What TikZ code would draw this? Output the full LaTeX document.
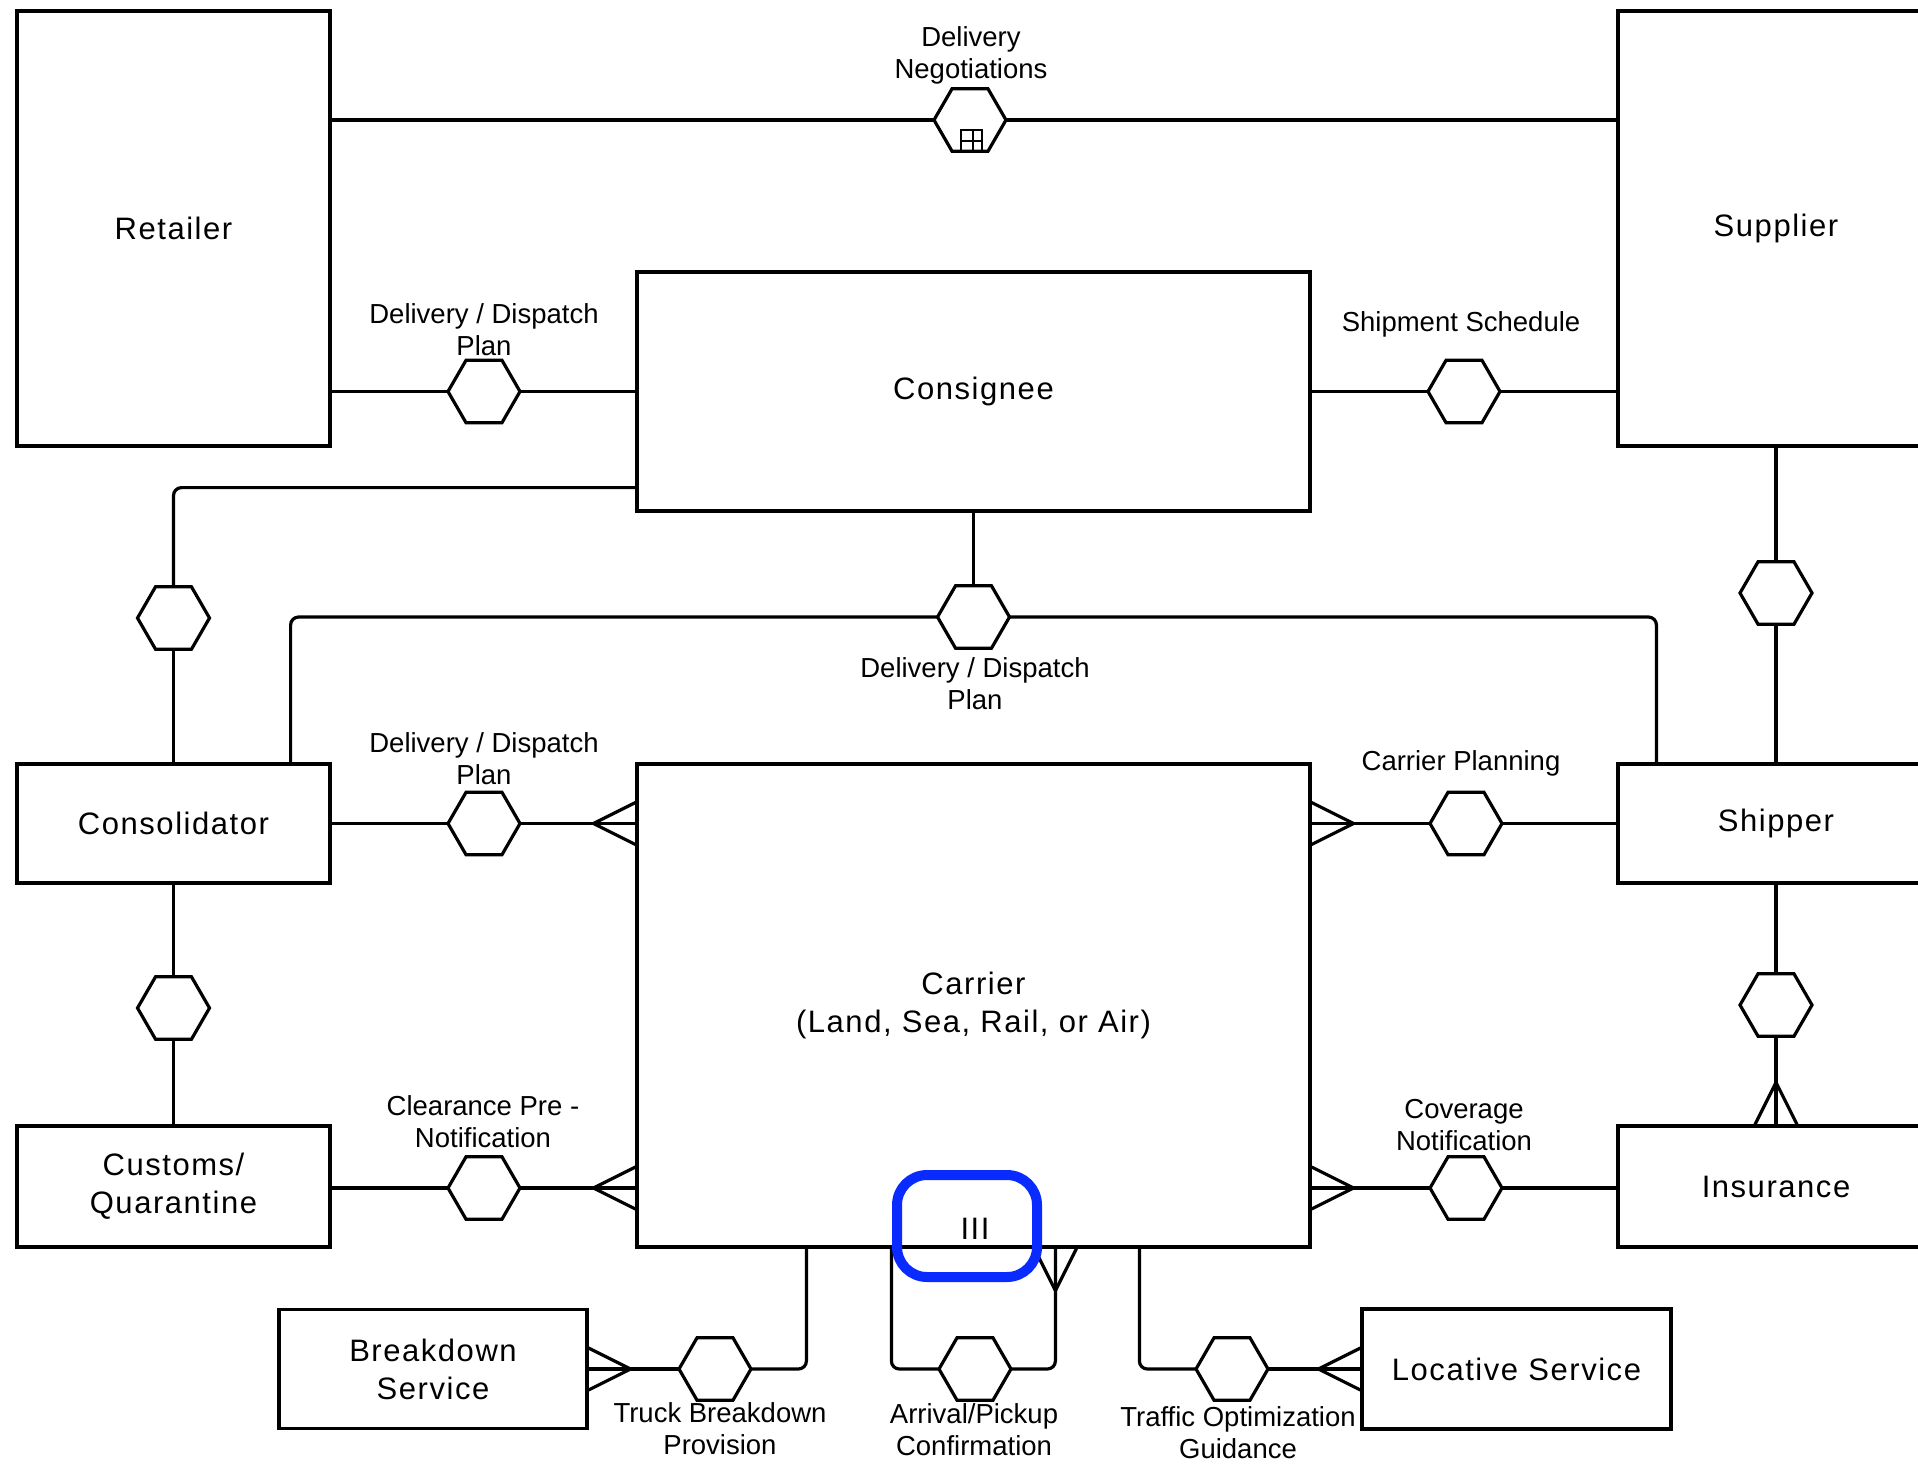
\documentclass[tikz,border=0pt]{standalone}
\usepackage{fontspec}
\setmainfont{Liberation Sans}
\usetikzlibrary{shapes.geometric}
\definecolor{markBlue}{HTML}{0A2BFF}
\newcommand{\entfont}{\fontsize{31}{38}\selectfont\addfontfeature{LetterSpace=5}}
\newcommand{\relfont}{\fontsize{27.5}{32}\selectfont}

\begin{document}
\begin{tikzpicture}[x=1pt,y=-1pt,
 entity/.style={rectangle,draw,line width=3.2pt,inner sep=0pt,align=center,font=\entfont},
 relation/.style={regular polygon,regular polygon sides=6,draw,line width=3.2pt,
 minimum size=72pt,inner sep=0pt,outer sep=0pt,fill=white},
 caption/.style={align=center,font=\relfont,inner sep=0pt},
 link/.style={line width=3.2pt,rounded corners=8pt},
 crow/.pic={\draw[line width=3.2pt] (0,-21) -- (-42,0) -- (0,21);}]
\useasboundingbox (0,0) rectangle (1918,1466);
\node[entity,minimum width=313pt,minimum height=435pt] (retailer) at (173.5,228.5) {Retailer};
\node[entity,minimum width=316pt,minimum height=435pt] (supplier) at (1776,228.5) {Supplier};
\node[entity,minimum width=673pt,minimum height=239pt] (consignee) at (973.5,391.5) {Consignee};
\node[entity,minimum width=313pt,minimum height=119pt] (consolidator) at (173.5,823.5) {Consolidator};
\node[entity,minimum width=316pt,minimum height=119pt] (shipper) at (1776,823.5) {Shipper};
\node[entity,minimum width=313pt,minimum height=121pt] (customs) at (173.5,1186.5) {Customs/\\Quarantine};
\node[entity,minimum width=316pt,minimum height=121pt] (insurance) at (1776,1186.5) {Insurance};
\node[entity,minimum width=673pt,minimum height=483pt] (carrier) at (973.5,1005.5) {Carrier\\(Land, Sea, Rail, or Air)};
\node[entity,minimum width=308pt,minimum height=119pt] (breakdown) at (433,1369) {Breakdown\\Service};
\node[entity,minimum width=309pt,minimum height=120pt] (locative) at (1516.5,1369) {Locative Service};

\node[relation] (hNeg) at (970,120) {};
\node[relation] (hRetCon) at (484,391.5) {};
\node[relation] (hConSup) at (1464,391.5) {};
\node[relation] (hConsolCon) at (173.5,618) {};
\node[relation] (hBus) at (973.5,617) {};
\node[relation] (hSupShip) at (1776,593) {};
\node[relation] (hConsolCar) at (484,823.5) {};
\node[relation] (hCarShip) at (1466,823.5) {};
\node[relation] (hConsolCust) at (173.5,1008) {};
\node[relation] (hShipIns) at (1776,1005) {};
\node[relation] (hCustCar) at (484,1188) {};
\node[relation] (hCarIns) at (1466,1188) {};
\node[relation] (hTruck) at (715,1369) {};
\node[relation] (hArrive) at (975,1369) {};
\node[relation] (hTraffic) at (1232,1369) {};

\node[caption] (lNeg) at (971,55) {Delivery\\Negotiations};
\node[caption] (lRetCon) at (484,330) {Delivery / Dispatch\\Plan};
\node[caption] (lConSup) at (1461,324) {Shipment Schedule};
\node[caption] (lBus) at (975,684) {Delivery / Dispatch\\Plan};
\node[caption] (lConsolCar) at (484,759) {Delivery / Dispatch\\Plan};
\node[caption] (lCarShip) at (1461,763) {Carrier Planning};
\node[caption] (lCustCar) at (483,1122) {Clearance Pre -\\Notification};
\node[caption] (lCarIns) at (1464,1125) {Coverage\\Notification};
\node[caption] (lTruck) at (720,1429) {Truck Breakdown\\Provision};
\node[caption] (lArrive) at (974,1430) {Arrival/Pickup\\Confirmation};
\node[caption] (lTraffic) at (1238,1433) {Traffic Optimization\\Guidance};

\draw[link] (retailer.east |- hNeg) -- (hNeg) -- (supplier.west |- hNeg);
\draw[link] (retailer.east |- hRetCon) -- (hRetCon) -- (consignee.west);
\draw[link] (consignee.east) -- (hConSup) -- (supplier.west |- hConSup);
\draw[link] ([yshift=25pt]consignee.south west) -| (hConsolCon);
\draw[link] (hConsolCon) -- (consolidator.north);
\draw[link] (consignee.south) -- (hBus);
\draw[link] ([xshift=-41pt]consolidator.north east) |- (hBus);
\draw[link] (hBus) -| ([xshift=40pt]shipper.north west);
\draw[link] (supplier.south) -- (hSupShip) -- (shipper.north);
\draw[link] (consolidator.south) -- (hConsolCust) -- (customs.north);
\draw[link] (shipper.south) -- (hShipIns) -- (insurance.north);
\draw[link] (consolidator.east) -- (hConsolCar) -- (carrier.west |- hConsolCar);
\draw[link] (carrier.east |- hCarShip) -- (hCarShip) -- (shipper.west);
\draw[link] (customs.east |- hCustCar) -- (hCustCar) -- (carrier.west |- hCustCar);
\draw[link] (carrier.east |- hCarIns) -- (hCarIns) -- (insurance.west |- hCarIns);
\draw[link] ([xshift=171pt]carrier.south west) |- (hTruck);
\draw[link] (hTruck) -- (breakdown.east |- hTruck);
\draw[link] ([xshift=256pt]carrier.south west) |- (hArrive);
\draw[link] (hArrive) -| ([xshift=420pt]carrier.south west);
\draw[link] ([xshift=504pt]carrier.south west) |- (hTraffic);
\draw[link] (hTraffic) -- (locative.west |- hTraffic);

\pic at (carrier.west |- hConsolCar) {crow};
\pic[rotate=180] at (carrier.east |- hCarShip) {crow};
\pic at (carrier.west |- hCustCar) {crow};
\pic[rotate=180] at (carrier.east |- hCarIns) {crow};
\pic[rotate=-90] at (insurance.north) {crow};
\pic[rotate=180] at (breakdown.east |- hTruck) {crow};
\pic at (locative.west |- hTraffic) {crow};
\pic[rotate=90] at ([xshift=420pt]carrier.south west) {crow};

\draw[line width=2.4pt] ([xshift=-9pt]hNeg.south) rectangle ([xshift=12pt,yshift=21pt]hNeg.south);
\draw[line width=2.4pt] ([xshift=3pt]hNeg.south) -- ([xshift=3pt,yshift=21pt]hNeg.south)
 ([xshift=-9pt,yshift=10pt]hNeg.south) -- ([xshift=12pt,yshift=10pt]hNeg.south);

\node[caption,font=\entfont] (three) at (975,1229) {III};
\node[draw=markBlue,line width=10pt,rounded corners=30pt,minimum width=140pt,
 minimum height=102pt,inner sep=0pt] (focus) at (967,1226) {};
\end{tikzpicture}
\end{document}
